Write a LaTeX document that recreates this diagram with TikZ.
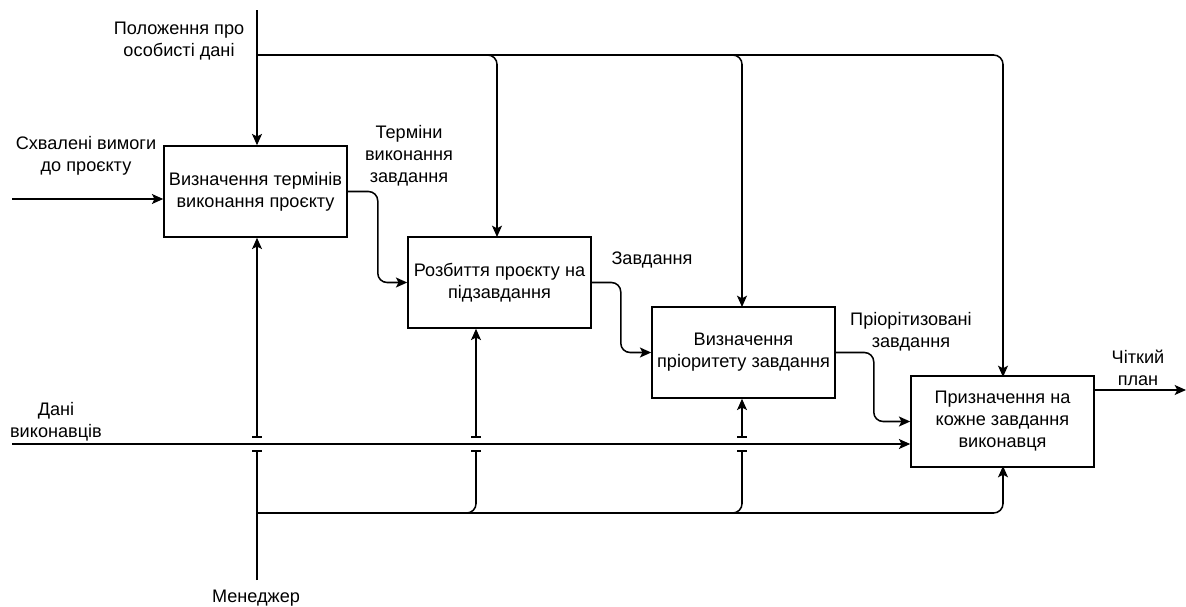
\documentclass[tikz,border=0pt]{standalone}
\usepackage{fontspec}
\setmainfont{Liberation Sans}
\usetikzlibrary{arrows.meta}
\begin{document}
\begin{tikzpicture}[x=0.75pt,y=-0.75pt,
  every node/.style={font=\fontsize{13.6}{16.5}\selectfont},
  func/.style={draw, line width=1.15pt, minimum width=137.25pt, minimum height=68.25pt, inner sep=1pt, align=center},
  lbl/.style={align=center, inner sep=0pt},
  tip/.style={-{Stealth[length=8.5pt,width=7.5pt,inset=2pt]}},
  flow/.style={line width=1.15pt, rounded corners=7pt},
  jumpin/.style={line width=1.15pt, {Bar[width=7pt]}-{Stealth[length=8.5pt,width=7.5pt,inset=2pt]}},
  jumpout/.style={line width=1.15pt, rounded corners=7pt, -{Bar[width=7pt]}}
]
\useasboundingbox (0,0) rectangle (1186,607);

% activity boxes
\node[func] (b1) at (255.5,191.5) {Визначення термінів\\виконання проєкту};
\node[func] (b2) at (499.5,282.5) {Розбиття проєкту на\\підзавдання};
\node[func] (b3) at (743.5,352.5) {Визначення\\пріоритету завдання};
\node[func] (b4) at (1002.5,421.5) {Призначення на\\кожне завдання\\виконавця};

% labels
\node[lbl] (lctl) at (179,41) {Положення про\\особисті дані};
\node[lbl] (lin) at (86,156) {Схвалені вимоги\\до проєкту};
\node[lbl] (lo1) at (409,156) {Терміни\\виконання\\завдання};
\node[lbl] (lo2) at (652,260) {Завдання};
\node[lbl] (lo3) at (911,332) {Пріорітизовані\\завдання};
\node[lbl] (ldata) at (56,422) {Дані\\виконавців};
\node[lbl] (lout) at (1138,368) {Чіткий\\план};
\node[lbl] (lmech) at (256,598) {Менеджер};

% free ends and junctions
\coordinate (ctlTop) at (257,10);
\coordinate (ctlJ) at (257,55);
\coordinate (inL) at (12,199);
\coordinate (dataL) at (12,444);
\coordinate (outR) at (1186,390);
\coordinate (mechBot) at (257,580);
\coordinate (mechJ) at (257,513);

% control: regulations
\draw[flow,tip] (ctlTop) -- (b1.north -| ctlTop);
\draw[flow,tip] (ctlJ) -| (497,237);
\draw[flow,tip] (ctlJ) -| (742,307);
\draw[flow,tip] (ctlJ) -| (1003,377);

% inputs
\draw[flow,tip] (inL) -- (b1.west |- inL);
\draw[flow,tip] (dataL) -- (b4.west |- dataL);

% outputs between activities
\draw[flow,tip] (b1.east) -- ++(30,0) |- (b2.west);
\draw[flow,tip] (b2.east) -- ++(29,0) |- (b3.west);
\draw[flow,tip] (b3.east) -- ++(38,0) |- (b4.west);
\draw[flow,tip] (b4.east |- outR) -- (outR);

% mechanism: manager, with line jumps over the data line
\draw[jumpout] (mechBot) -- (257,450);
\draw[jumpin] (257,438) -- (b1.south -| mechBot);
\draw[jumpout] (mechJ) -| (476,450);
\draw[jumpin] (476,438) -- (b2.south -| 476,0);
\draw[jumpout] (mechJ) -| (742,450);
\draw[jumpin] (742,438) -- (b3.south -| 742,0);
\draw[flow,tip] (mechJ) -| (1003,466);
\end{tikzpicture}
\end{document}
